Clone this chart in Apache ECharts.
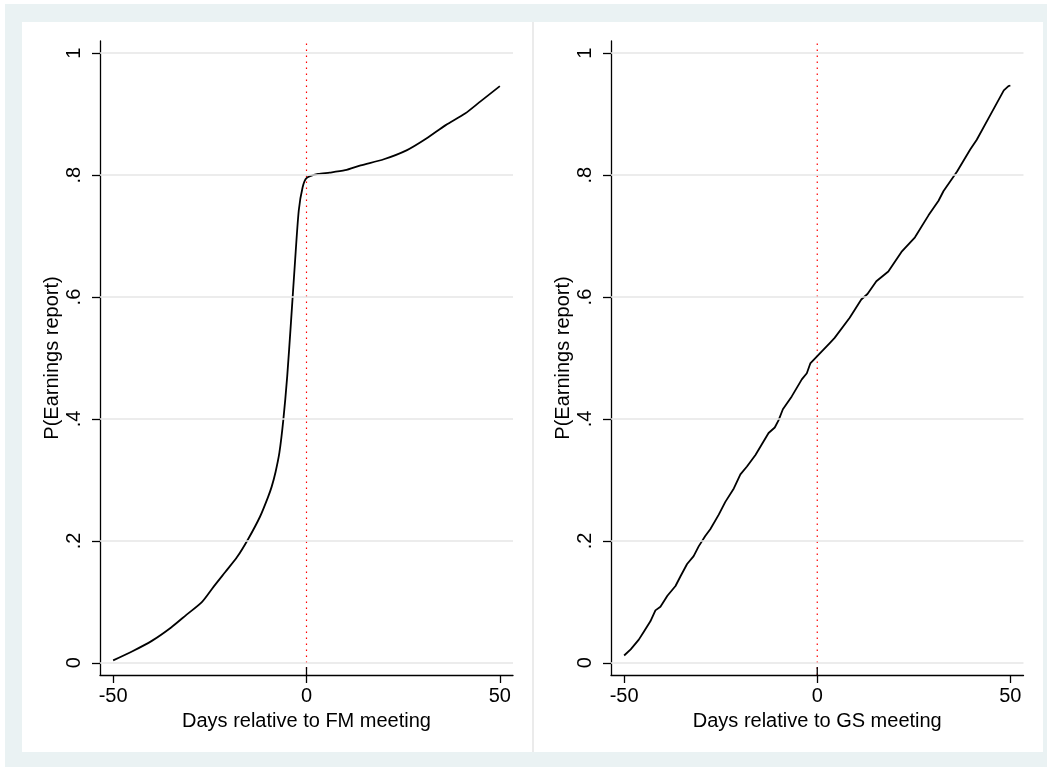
<!DOCTYPE html>
<html>
<head>
<meta charset="utf-8">
<script src="https://cdn.jsdelivr.net/npm/echarts@6/dist/echarts.min.js"></script>
<style>
  html, body { margin: 0; padding: 0; background: #fff; }
  #chart { width: 1047px; height: 767px; }
</style>
</head>
<body>
<div id="chart"></div>
<script>
// left panel: days relative to FM meeting
const fmDays = [-50, -45, -40, -35, -31, -27, -24, -21, -18, -15, -12, -10, -9, -8, -7, -6, -5, -4, -3, -2, -1, 0,
  3, 6, 10, 14, 20, 26, 31, 36, 41, 45, 50];
const fmProb = [0.004, 0.019, 0.036, 0.058, 0.079, 0.100, 0.125, 0.149, 0.173, 0.204, 0.240, 0.271, 0.289, 0.313, 0.345, 0.398, 0.469, 0.560, 0.655, 0.742, 0.780, 0.795,
  0.802, 0.804, 0.808, 0.816, 0.826, 0.841, 0.860, 0.882, 0.901, 0.921, 0.946];

// right panel: days relative to GS meeting
const gsDays = [-50, -48.3, -46.2, -44.9, -43.2, -41.9, -40.6, -38.8, -36.7, -35.4, -33.7, -32, -30.7, -29, -27.7, -25.5,
  -23.8, -21.6, -19.9, -18.2, -16, -14.3, -12.6, -11, -10, -8.9, -6.6, -4, -2.7, -1.8, 0, 3.3, 4.5, 8.4, 11.4, 13,
  15.3, 18.4, 21.8, 25.3, 28.8, 31.4, 32.7, 36.2, 39.6, 41.3, 44.4, 48.3, 49.5, 50];
const gsProb = [0.012, 0.022, 0.038, 0.051, 0.068, 0.086, 0.092, 0.110, 0.126, 0.142, 0.162, 0.175, 0.191, 0.208, 0.219, 0.243,
  0.264, 0.286, 0.309, 0.322, 0.341, 0.359, 0.377, 0.386, 0.398, 0.416, 0.437, 0.465, 0.475, 0.491, 0.503, 0.525, 0.533, 0.566, 0.596, 0.605,
  0.626, 0.642, 0.674, 0.698, 0.734, 0.758, 0.774, 0.806, 0.842, 0.858, 0.894, 0.939, 0.946, 0.947];

const xTicks = [-50, 0, 50];
const yTicks = [0, 0.2, 0.4, 0.6, 0.8, 1];
const yTickLabels = ['0', '.2', '.4', '.6', '.8', '1'];

const FONT = '"Liberation Sans", Arial, sans-serif';
const axisColor = '#000';
const X_MIN = -53.4, X_MAX = 53.4, Y_MIN = -0.02, Y_MAX = 1.02;

const textStyle = { color: '#000', fontSize: 20, fontFamily: FONT };

function makeXAxis(gridIndex, name) {
  return {
    type: 'value', gridIndex, min: X_MIN, max: X_MAX,
    name, nameLocation: 'middle', nameGap: 36,
    nameTextStyle: textStyle,
    axisLine: { show: true, onZero: false, lineStyle: { color: axisColor, width: 1.3 } },
    axisTick: { show: true, customValues: xTicks, length: 8, lineStyle: { color: axisColor, width: 1.3 } },
    axisLabel: { show: true, customValues: xTicks, margin: 11, ...textStyle },
    splitLine: { show: false }
  };
}

function makeYAxis(gridIndex) {
  return {
    type: 'value', gridIndex, min: Y_MIN, max: Y_MAX,
    name: 'P(Earnings report)', nameLocation: 'middle', nameGap: 38,
    nameTextStyle: textStyle,
    axisLine: { show: true, onZero: false, lineStyle: { color: axisColor, width: 1.3 } },
    axisTick: { show: true, customValues: yTicks, length: 8, lineStyle: { color: axisColor, width: 1.3 } },
    axisLabel: {
      show: true, customValues: yTicks, rotate: 90, margin: 16, ...textStyle,
      formatter: v => {
        const i = yTicks.findIndex(t => Math.abs(t - v) < 1e-9);
        return i >= 0 ? yTickLabels[i] : '';
      }
    },
    splitLine: { show: false }
  };
}

function panelSeries(idx, days, prob, smooth) {
  return [
    { // gridlines
      type: 'line', xAxisIndex: idx, yAxisIndex: idx, data: [], z: 1,
      markLine: {
        silent: true, symbol: 'none', label: { show: false },
        lineStyle: { color: '#E6E6E6', type: 'solid', width: 1.5 },
        data: yTicks.map(v => ({ yAxis: v }))
      }
    },
    { // dotted red xline at 0
      type: 'line', xAxisIndex: idx, yAxisIndex: idx, z: 2, symbol: 'none', silent: true,
      data: [[0, Y_MIN], [0, Y_MAX]],
      lineStyle: { color: '#ff0000', width: 1.2, type: [1.5, 4.5] }
    },
    {
      type: 'line', xAxisIndex: idx, yAxisIndex: idx, z: 2, symbol: 'none', silent: true,
      data: [[0, Y_MIN], [0, -0.007]],
      lineStyle: { color: '#000', width: 1.3 }
    },
    {
      type: 'line', xAxisIndex: idx, yAxisIndex: idx, z: 3, symbol: 'none', showSymbol: false,
      smooth: smooth,
      data: days.map((d, i) => [d, prob[i]]),
      lineStyle: { color: '#000', width: 1.8 }
    }
  ];
}

const chart = echarts.init(document.getElementById('chart'));
chart.setOption({
  animation: false,
  backgroundColor: '#EAF2F3',
  graphic: {
    elements: [
      { type: 'rect', z: -100, shape: { x: 0, y: 0, width: 1047, height: 4 }, style: { fill: '#fff' } },
      { type: 'rect', z: -100, shape: { x: 0, y: 0, width: 5, height: 767 }, style: { fill: '#fff' } },
      { type: 'rect', z: -100, shape: { x: 22, y: 22, width: 1021, height: 730 }, style: { fill: '#fff' } },
      { type: 'line', z: -99, shape: { x1: 533, y1: 22, x2: 533, y2: 752 }, style: { stroke: '#EBEBEB', lineWidth: 2 } }
    ]
  },
  grid: [
    { left: 100, top: 41, width: 413, height: 634 },
    { left: 611, top: 41, width: 412.5, height: 634 }
  ],
  xAxis: [makeXAxis(0, 'Days relative to FM meeting'), makeXAxis(1, 'Days relative to GS meeting')],
  yAxis: [makeYAxis(0), makeYAxis(1)],
  series: [...panelSeries(0, fmDays, fmProb, 0.25), ...panelSeries(1, gsDays, gsProb, false)]
});
</script>
</body>
</html>
